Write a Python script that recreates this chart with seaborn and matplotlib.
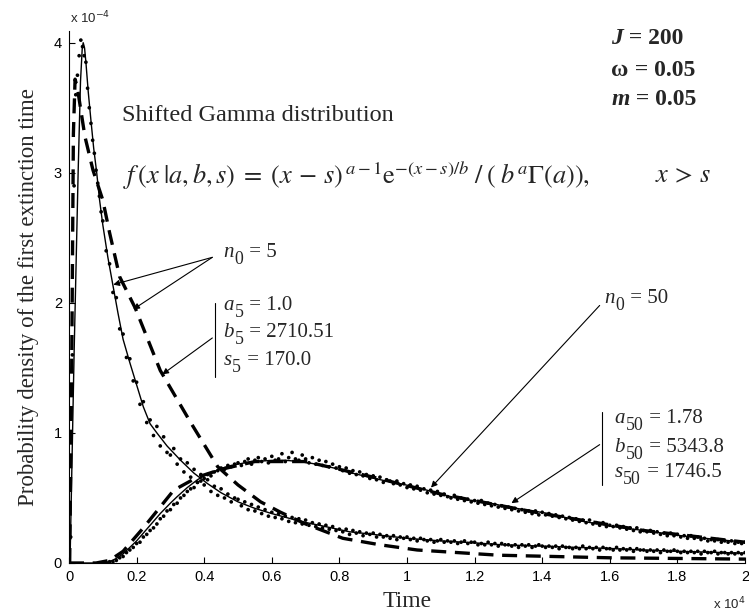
import numpy as np
import pandas as pd
import matplotlib
matplotlib.use("Agg")
import matplotlib.pyplot as plt
import seaborn as sns

# ---------------- data (time in 1e4 units, density in 1e-4 units) ----------------
fit5_t = [0.003, 0.015, 0.027, 0.034, 0.039, 0.042, 0.046, 0.050, 0.057, 0.065, 0.073, 0.082,
          0.090, 0.100, 0.115, 0.131, 0.145, 0.160, 0.180, 0.200, 0.220, 0.240, 0.260, 0.290,
          0.330, 0.370, 0.410, 0.450, 0.500, 0.550, 0.600, 0.685, 0.750, 0.830, 0.900, 1.000,
          1.100, 1.200, 1.280, 1.400, 1.500, 1.600, 1.700, 1.800, 1.900, 2.000]
fit5_p = [0.0, 1.60, 3.00, 3.70, 3.95, 4.00, 3.96, 3.85, 3.62, 3.40, 3.19, 3.00,
          2.80, 2.60, 2.35, 2.12, 1.92, 1.72, 1.54, 1.37, 1.20, 1.07, 1.00, 0.90,
          0.79, 0.69, 0.61, 0.54, 0.47, 0.42, 0.38, 0.32, 0.285, 0.24, 0.22, 0.19,
          0.17, 0.155, 0.14, 0.13, 0.12, 0.112, 0.10, 0.09, 0.083, 0.075]

approx5_t = [0.002, 0.008, 0.013, 0.018, 0.025, 0.047, 0.071, 0.100, 0.120, 0.150, 0.196,
             0.270, 0.360, 0.440, 0.500, 0.567, 0.626, 0.700, 0.810, 0.920, 1.030, 1.270,
             1.600, 2.000]
approx5_p = [0.0, 1.50, 3.30, 3.72, 3.65, 3.28, 3.02, 2.79, 2.54, 2.20, 1.96,
             1.48, 1.08, 0.74, 0.60, 0.47, 0.39, 0.30, 0.19, 0.14, 0.10, 0.06,
             0.04, 0.03]

fit50_t = [0.0, 0.08, 0.10, 0.12, 0.14, 0.16, 0.18, 0.20, 0.22, 0.24, 0.27, 0.30, 0.32,
           0.35, 0.38, 0.40, 0.42, 0.44, 0.46, 0.48, 0.50, 0.53, 0.56, 0.60, 0.64, 0.68,
           0.72, 0.76, 0.80, 0.84, 0.88, 0.93, 0.98, 1.03, 1.08, 1.13, 1.18, 1.23, 1.30,
           1.42, 1.50, 1.61, 1.70, 1.81, 1.90, 2.00]
fit50_p = [0.0, 0.0, 0.0, 0.01, 0.035, 0.07, 0.12, 0.17, 0.23, 0.29, 0.38, 0.46, 0.51,
           0.58, 0.64, 0.67, 0.695, 0.715, 0.735, 0.75, 0.76, 0.775, 0.783, 0.788, 0.79, 0.78,
           0.765, 0.745, 0.72, 0.69, 0.665, 0.635, 0.61, 0.58, 0.545, 0.51, 0.485, 0.47, 0.43,
           0.38, 0.33, 0.28, 0.25, 0.21, 0.185, 0.16]

approx50_t = [0.0, 0.08, 0.12, 0.16, 0.22, 0.31, 0.38, 0.45, 0.55, 0.70, 0.90, 1.10, 1.40, 1.70, 2.00]
approx50_p = [0.0, 0.0, 0.02, 0.09, 0.27, 0.56, 0.66, 0.72, 0.78, 0.78, 0.66, 0.53, 0.38, 0.25, 0.16]

sim_t = [round(0.10 + 0.01 * i, 2) for i in range(191)]
early5_t = [0.005, 0.01, 0.015, 0.02, 0.025, 0.03, 0.035, 0.04, 0.045, 0.05, 0.055,
            0.06, 0.065, 0.07, 0.075, 0.08, 0.085, 0.09, 0.095]
early5_p = [0.2, 1.6, 2.9, 3.6, 3.75, 3.9, 4.02, 3.97, 3.9, 3.85, 3.65,
            3.5, 3.38, 3.25, 3.15, 3.02, 2.92, 2.82, 2.7]
sim5_p = [2.63, 2.40, 2.30, 2.08, 2.04, 1.80, 1.76, 1.58, 1.57, 1.40,
          1.39, 1.22, 1.24, 1.08, 1.10, 0.98, 1.05, 0.90, 0.97, 0.85,
          0.83, 0.88, 0.76, 0.80, 0.70, 0.77, 0.66, 0.72, 0.62, 0.68,
          0.60, 0.64, 0.55, 0.59, 0.52, 0.57, 0.50, 0.53, 0.47, 0.50,
          0.49, 0.44, 0.47, 0.41, 0.45, 0.40, 0.43, 0.38, 0.41, 0.36,
          0.39, 0.35, 0.38, 0.34, 0.36, 0.32, 0.35, 0.31, 0.34, 0.30,
          0.33, 0.29, 0.31, 0.28, 0.30, 0.27, 0.29, 0.26, 0.28, 0.25,
          0.26, 0.24, 0.26, 0.22, 0.25, 0.23, 0.24, 0.21, 0.23, 0.22,
          0.23, 0.20, 0.22, 0.20, 0.21, 0.19, 0.21, 0.18, 0.20, 0.19,
          0.20, 0.18, 0.19, 0.17, 0.19, 0.18, 0.17, 0.18, 0.16, 0.17,
          0.18, 0.16, 0.17, 0.16, 0.17, 0.15, 0.16, 0.17, 0.15, 0.16,
          0.16, 0.14, 0.15, 0.14, 0.16, 0.14, 0.15, 0.13, 0.15, 0.14,
          0.14, 0.13, 0.14, 0.12, 0.14, 0.13, 0.14, 0.12, 0.13, 0.14,
          0.13, 0.12, 0.13, 0.12, 0.13, 0.11, 0.13, 0.12, 0.12, 0.11,
          0.12, 0.11, 0.13, 0.11, 0.12, 0.11, 0.12, 0.10, 0.12, 0.11,
          0.11, 0.10, 0.12, 0.10, 0.11, 0.10, 0.11, 0.09, 0.11, 0.10,
          0.10, 0.09, 0.10, 0.09, 0.10, 0.08, 0.10, 0.09, 0.09, 0.10,
          0.09, 0.08, 0.09, 0.08, 0.09, 0.08, 0.09, 0.07, 0.09, 0.08,
          0.08, 0.09, 0.07, 0.08, 0.08, 0.07, 0.08, 0.07, 0.08, 0.07, 0.08]
sim50_p = [0.0, 0.0, 0.01, 0.01, 0.02, 0.04, 0.05, 0.08, 0.10, 0.12,
           0.15, 0.16, 0.20, 0.22, 0.25, 0.27, 0.30, 0.34, 0.36, 0.40,
           0.41, 0.45, 0.46, 0.50, 0.52, 0.55, 0.57, 0.58, 0.62, 0.63,
           0.65, 0.68, 0.67, 0.70, 0.71, 0.73, 0.72, 0.75, 0.74, 0.76,
           0.77, 0.75, 0.78, 0.80, 0.76, 0.79, 0.81, 0.78, 0.80, 0.77,
           0.82, 0.79, 0.80, 0.84, 0.78, 0.81, 0.85, 0.80, 0.79, 0.83,
           0.80, 0.77, 0.81, 0.76, 0.79, 0.75, 0.78, 0.74, 0.76, 0.73,
           0.74, 0.71, 0.73, 0.69, 0.71, 0.68, 0.70, 0.67, 0.68, 0.65,
           0.67, 0.64, 0.66, 0.62, 0.64, 0.63, 0.61, 0.63, 0.60, 0.61,
           0.58, 0.60, 0.57, 0.59, 0.56, 0.57, 0.54, 0.56, 0.53, 0.55,
           0.52, 0.53, 0.51, 0.50, 0.52, 0.49, 0.50, 0.48, 0.49, 0.47,
           0.48, 0.46, 0.48, 0.45, 0.46, 0.44, 0.45, 0.43, 0.44, 0.42,
           0.43, 0.41, 0.42, 0.40, 0.41, 0.39, 0.40, 0.38, 0.40, 0.37,
           0.39, 0.37, 0.38, 0.36, 0.37, 0.35, 0.36, 0.34, 0.35, 0.33,
           0.34, 0.32, 0.33, 0.31, 0.33, 0.30, 0.31, 0.29, 0.31, 0.28,
           0.29, 0.28, 0.29, 0.27, 0.28, 0.26, 0.27, 0.25, 0.27, 0.24,
           0.25, 0.24, 0.25, 0.23, 0.24, 0.22, 0.23, 0.21, 0.23, 0.21,
           0.22, 0.20, 0.21, 0.19, 0.21, 0.19, 0.20, 0.18, 0.19, 0.17,
           0.18, 0.17, 0.18, 0.16, 0.17, 0.16, 0.17, 0.15, 0.16, 0.15, 0.16]

x_ticks = [0, 0.2, 0.4, 0.6, 0.8, 1.0, 1.2, 1.4, 1.6, 1.8, 2.0]
x_ticklabels = ["0", "0.2", "0.4", "0.6", "0.8", "1", "1.2", "1.4", "1.6", "1.8", "2"]
y_ticks = [0, 1, 2, 3, 4]
y_ticklabels = ["0", "1", "2", "3", "4"]

# ---------------- figure ----------------
sns.set_style("ticks")
plt.rcParams["mathtext.fontset"] = "stix"
plt.rcParams["font.family"] = ["DejaVu Sans"]

fig = plt.figure(figsize=(7.49, 6.16), dpi=100)
ax = fig.add_axes([69 / 749, 1 - 563 / 616, 676 / 749, (563 - 31) / 616])

dots5 = pd.DataFrame({"t": early5_t + sim_t, "p": early5_p + sim5_p})
dots50 = pd.DataFrame({"t": sim_t, "p": sim50_p})
sns.scatterplot(data=dots5, x="t", y="p", ax=ax, s=7, color="black", edgecolor="none", linewidth=0)
sns.scatterplot(data=dots50, x="t", y="p", ax=ax, s=7, color="black", edgecolor="none", linewidth=0)

sns.lineplot(x=approx5_t, y=approx5_p, ax=ax, sort=False, estimator=None, color="black",
             linewidth=2.4, linestyle=(0, (4.5, 2.6)))
sns.lineplot(x=approx50_t, y=approx50_p, ax=ax, sort=False, estimator=None, color="black",
             linewidth=2.4, linestyle=(0, (4.5, 2.6)))
sns.lineplot(x=fit5_t, y=fit5_p, ax=ax, sort=False, estimator=None, color="black", linewidth=1.0)
sns.lineplot(x=fit50_t, y=fit50_p, ax=ax, sort=False, estimator=None, color="black", linewidth=1.0)

ax.set_xlim(0, 2.0)
ax.set_ylim(0, 4.09)
ax.set_xticks(x_ticks)
ax.set_xticklabels(x_ticklabels)
ax.set_yticks(y_ticks)
ax.set_yticklabels(y_ticklabels)
ax.tick_params(axis="both", direction="in", length=4, width=0.8, labelsize=10.5, pad=5, colors="black")
for lab in ax.get_xticklabels() + ax.get_yticklabels():
    lab.set_family("Liberation Sans")
sns.despine(ax=ax)
for sp in ["left", "bottom"]:
    ax.spines[sp].set_linewidth(0.8)
    ax.spines[sp].set_color("black")

serif = "Liberation Serif"
ax.set_xlabel("Time", family=serif, fontsize=17, labelpad=5)
ax.set_ylabel("Probability density of the first extinction time", family=serif, fontsize=16.5, labelpad=11)

fig.text(70 / 749, 1 - 18 / 616, r"x 10$^{-4}$", family="Liberation Sans", fontsize=9.5, va="center",
         math_fontfamily="dejavusans")
fig.text(713 / 749, 1 - 604 / 616, r"x 10$^{4}$", family="Liberation Sans", fontsize=9.5, va="center",
         math_fontfamily="dejavusans")

# texts
ax.text(0.157, 3.44, "Shifted Gamma distribution", family=serif, fontsize=17.5, va="center")
ax.text(0.160, 2.98,
        r"$f\,(x\;|a,b,s)\;=\;(x\,-\,s)^{\,a-1}\mathrm{e}^{-(x-s)/b}\;/\;(\;b^{a}\Gamma(a)),$",
        fontsize=19, va="center")
ax.text(1.735, 2.98, r"$x\,>\,s$", fontsize=19, va="center")

def bold_pair(x, y, first, rest, first_style):
    t1 = ax.text(x, y, first, family=serif, fontsize=17, weight="bold", style=first_style, va="center")
    ax.annotate(rest, xy=(1, 0.5), xycoords=t1, va="center", family=serif, fontsize=17, weight="bold")

bold_pair(1.605, 4.03, "J", " = 200", "italic")
bold_pair(1.605, 3.79, "\u03c9", " = 0.05", "normal")
bold_pair(1.605, 3.56, "m", " = 0.05", "italic")

def sub_label(x, y, letter, sub, rest, fs=15):
    t1 = ax.text(x, y, letter, family=serif, style="italic", fontsize=fs, va="baseline")
    t2 = ax.annotate(sub, xy=(1, 0), xycoords=t1, xytext=(0.3, -0.28 * fs), textcoords="offset points",
                     family=serif, fontsize=fs * 0.85, va="bottom")
    ax.annotate(rest, xy=(1, 0), xycoords=(t2, t1), xytext=(0.5, 0), textcoords="offset points",
                family=serif, fontsize=fs, va="bottom")

arrow = dict(arrowstyle="-|>", color="black", lw=0.8, mutation_scale=9, shrinkA=0, shrinkB=0)

# n0 = 5
sub_label(0.457, 2.354, "n", "0", " = 5")
ax.annotate("", xy=(0.131, 2.14), xytext=(0.424, 2.35), arrowprops=arrow)
ax.annotate("", xy=(0.19, 1.95), xytext=(0.424, 2.35), arrowprops=arrow)
ax.plot([0.433, 0.433], [1.43, 2.0], color="black", lw=0.8)
sub_label(0.457, 1.946, "a", "5", " = 1.0")
sub_label(0.457, 1.738, "b", "5", " = 2710.51")
sub_label(0.457, 1.523, "s", "5", " = 170.0")
ax.annotate("", xy=(0.276, 1.45), xytext=(0.424, 1.73), arrowprops=arrow)

# n0 = 50
sub_label(1.585, 2.0, "n", "0", " = 50")
ax.annotate("", xy=(1.071, 0.58), xytext=(1.57, 1.98), arrowprops=arrow)
ax.plot([1.576, 1.576], [0.60, 1.16], color="black", lw=0.8)
sub_label(1.614, 1.077, "a", "50", " = 1.78")
sub_label(1.614, 0.854, "b", "50", " = 5343.8")
sub_label(1.614, 0.662, "s", "50", " = 1746.5")
ax.annotate("", xy=(1.309, 0.46), xytext=(1.57, 0.91), arrowprops=arrow)

fig.savefig("out.png", dpi=100)
